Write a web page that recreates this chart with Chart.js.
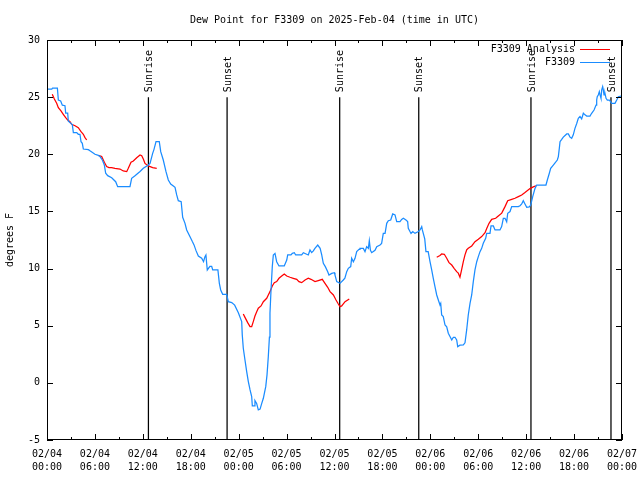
<!DOCTYPE html>
<html>
<head>
<meta charset="utf-8">
<script src="https://cdn.jsdelivr.net/npm/chart.js@4.4.0/dist/chart.umd.min.js"></script>
<style>
  html, body { margin: 0; padding: 0; background: #fff; }
</style>
</head>
<body>
<canvas id="grafico" width="640" height="480"></canvas>
<script>
// horas desde 02/04 00:00 UTC
const obsHoras = [0, 0.6, 0.7, 1.3, 1.42, 1.71, 1.92, 2.25, 2.34, 2.59, 2.67, 3.17, 3.3, 3.72, 3.92, 4.13, 4.26, 4.42, 4.55, 5.18, 5.38, 6.01, 6.43, 6.64, 6.93, 7.18, 7.35, 7.6, 8.1, 8.6, 8.85, 10.39, 10.6, 11.02, 11.65, 12.06, 12.69,
  12.9, 13.23, 13.4, 13.65, 14.06, 14.24, 14.56, 14.9, 15.19, 15.49, 15.82, 16.03, 16.24, 16.44, 16.8, 16.99, 17.28, 17.49, 17.91, 18.2, 18.41, 18.66, 18.95, 19.37, 19.6, 19.78, 19.9, 20.07, 20.4, 20.62, 20.75, 21.4, 21.58, 21.75, 22.0, 22.5, 22.7, 23.13, 23.5,
  23.96, 24.38, 24.45, 24.58, 24.79, 25.0, 25.21, 25.42, 25.63, 25.71, 25.92, 26.04, 26.25, 26.46, 26.68, 26.89, 27.09, 27.39, 27.55, 27.71, 27.85, 27.92, 28.05, 28.21, 28.34, 28.55, 28.76, 29.05, 29.71, 30.02, 30.14, 30.55, 30.72, 30.97, 31.14, 31.89, 32.1, 32.72, 32.93, 33.14, 33.35, 33.55, 33.9, 34.2, 34.4, 34.6, 34.85, 35.15, 35.31, 35.65, 35.98,
  36.06, 36.28, 36.69, 37.1, 37.3, 37.53, 37.73, 38.03, 38.15, 38.36, 38.57, 38.78, 39.07, 39.19, 39.61, 39.82, 40.03, 40.24, 40.36, 40.5, 40.66, 41.07, 41.29, 41.7, 41.9, 42.11, 42.33, 42.54, 42.74, 43.04, 43.29, 43.58, 43.79, 44.2, 44.41, 44.62, 44.95, 45.16, 45.24, 45.45, 45.58, 45.8, 46.08, 46.5, 46.71, 46.92, 47.0, 47.3, 47.45,
  47.73, 47.96, 48.17, 48.37, 48.58, 48.8, 49.0, 49.21, 49.3, 49.42, 49.62, 49.84, 50.05, 50.25, 50.46, 50.68, 50.88, 51.09, 51.3, 51.43, 51.71, 52.13, 52.34, 52.55, 52.75, 52.97, 53.18, 53.38, 53.59, 53.81, 54.01, 54.22, 54.43, 54.63, 54.93, 55.06, 55.47, 55.6, 55.89, 56.1, 56.72, 56.93, 57.14, 57.35, 57.56, 57.69, 57.98, 58.19, 59.02,
  59.23, 59.44, 59.64, 59.85, 60.07, 60.39, 60.57, 60.82, 61.11, 61.32, 62.48, 62.65, 62.9, 63.07, 63.4, 63.74, 63.9, 64.03, 64.15, 64.24, 64.45, 64.65, 65.08, 65.28, 65.49, 65.7, 65.9, 66.11, 66.33, 66.53, 66.74, 66.95, 67.16, 67.37, 67.58, 67.99, 68.2, 68.5, 68.75, 68.83, 68.9, 69.03, 69.16, 69.25, 69.37, 69.46, 69.58, 69.66, 69.75, 69.87, 70.0, 70.16, 70.41, 70.71, 71.12, 71.34, 71.54, 71.88, 72];
const obsValores = [25.7, 25.7, 25.8, 25.8, 24.75, 24.66, 24.3, 24.25, 23.6, 23.6, 22.9, 22.6, 21.9, 21.9, 21.75, 21.75, 21.1, 20.96, 20.46, 20.4, 20.3, 20.0, 19.9, 19.8, 19.5, 19.06, 18.34, 18.13, 17.95, 17.6, 17.17, 17.17, 17.9, 18.13, 18.5, 18.77, 19.06,
  19.2, 20.08, 20.43, 21.1, 21.1, 20.23, 19.5, 18.48, 17.75, 17.4, 17.23, 17.11, 16.44, 15.94, 15.85, 14.49, 13.96, 13.38, 12.79, 12.36, 12.07, 11.57, 11.1, 10.9, 10.6, 11.04, 11.19, 9.88, 10.2, 10.2, 9.88, 9.88, 8.71, 8.13, 7.75, 7.75, 7.1, 7.02, 6.8,
  6.14, 5.36, 4.2, 3.03, 2.0, 1.0, 0.11, -0.6, -1.2, -2.02, -2.02, -1.55, -1.8, -2.37, -2.3, -1.8, -1.35, -0.33, 0.7, 2.29, 4.0, 6.09, 8.1, 10.17, 11.19, 11.33, 10.6, 10.23, 10.23, 10.75, 11.19, 11.19, 11.33, 11.39, 11.19, 11.19, 11.39, 11.19, 11.63, 11.4, 11.55, 11.77, 12.06, 11.77, 11.19, 10.46, 10.17, 9.73, 9.44, 9.58, 9.64,
  9.44, 8.86, 8.71, 9.0, 9.15, 9.73, 10.02, 10.17, 10.9, 10.6, 10.9, 11.48, 11.68, 11.77, 11.77, 11.48, 11.92, 11.77, 12.44, 11.6, 11.39, 11.6, 11.92, 12.06, 12.2, 13.08, 13.08, 13.96, 14.19, 14.25, 14.78, 14.7, 14.11, 14.11, 14.3, 14.4, 14.25, 14.11, 13.53, 13.24, 13.08, 13.24, 13.08, 13.24, 13.38, 13.67, 13.38, 12.6, 11.48,
  11.48, 10.6, 9.88, 9.15, 8.42, 7.69, 7.25, 6.81, 6.95, 5.94, 5.8, 5.06, 4.9, 4.34, 4.05, 3.75, 3.99, 3.99, 3.75, 3.17, 3.3, 3.32, 3.5, 4.63, 5.94, 6.95, 7.69, 8.86, 9.88, 10.6, 11.04, 11.48, 11.77, 12.21, 12.65, 13.08, 13.08, 13.73, 13.73, 13.38, 13.38, 13.67, 14.4, 14.4, 14.1, 14.84, 14.99, 15.42, 15.42,
  15.5, 15.65, 15.94, 15.65, 15.36, 15.4, 15.56, 16.29, 17.02, 17.31, 17.31, 17.75, 18.34, 18.77, 19.06, 19.35, 19.5, 19.8, 20.52, 21.1, 21.3, 21.5, 21.78, 21.78, 21.5, 21.4, 21.7, 22.27, 22.7, 23.15, 23.3, 23.1, 23.59, 23.45, 23.35, 23.35, 23.59, 23.87, 24.31, 24.75, 25.04, 25.19, 25.48, 25.19, 24.9, 25.63, 25.92, 25.63, 25.19, 25.33, 24.9, 24.75, 24.75, 24.46, 24.46, 24.75, 25.04, 25.1, 25.1];

// análise (null = intervalo sem dados)
const anaHoras = [0.66, 0.92, 1.21, 1.42, 1.75, 2.04, 2.34, 2.59, 2.88, 3.09, 3.51, 3.92, 4.26, 4.55, 4.76, 4.97, 5.7,
  6.51, 6.85, 7.18, 7.47, 7.76, 8.1, 8.51, 9.14, 9.55, 9.98, 10.18, 10.52, 10.81, 11.23, 11.65, 11.86, 12.06, 12.27, 12.69, 13.23, 13.74, 19,
  24.58, 24.79, 25.13, 25.42, 25.63, 25.83, 26.04, 26.26, 26.46, 26.8, 27.09, 27.51, 27.71, 27.92, 28.21, 28.46, 28.76, 29.05, 29.39, 29.71, 30.02, 30.43, 30.84, 31.27, 31.55, 31.89, 32.31, 32.72, 33.06, 33.56, 33.97, 34.47, 34.81, 35.15, 35.44, 35.86, 36.19, 36.48, 36.69, 36.9, 37.32, 37.85, 43,
  48.8, 49.21, 49.42, 49.75, 50.05, 50.34, 50.68, 51.0, 51.3, 51.5, 51.71, 51.92, 52.13, 52.34, 52.55, 52.75, 53.18, 53.59, 54.01, 54.43, 54.85, 55.06, 55.35, 55.68, 56.18, 56.51, 56.94, 57.35, 57.69, 58.19, 58.6, 59.02, 59.44, 59.85, 60.48, 60.89, 61.23];
const anaValores = [25.25, 24.84, 24.46, 24.08, 23.79, 23.5, 23.2, 23.0, 22.85, 22.62, 22.5, 22.33, 21.98, 21.75, 21.46, 21.25, null,
  19.88, 19.8, 19.3, 18.92, 18.83, 18.83, 18.77, 18.71, 18.54, 18.48, 18.77, 19.3, 19.41, 19.7, 19.94, 19.88, 19.59, 19.2, 18.98, 18.83, 18.77, null,
  6.03, 5.73, 5.27, 4.92, 4.92, 5.36, 5.85, 6.23, 6.53, 6.73, 7.1, 7.4, 7.69, 7.98, 8.48, 8.77, 8.86, 9.15, 9.35, 9.53, 9.35, 9.24, 9.15, 9.06, 8.86, 8.77, 9.0, 9.15, 9.06, 8.86, 8.95, 9.06, 8.71, 8.36, 7.98, 7.69, 7.25, 6.9, 6.67, 6.73, 7.1, 7.34, null,
  10.99, 11.14, 11.28, 11.25, 10.9, 10.52, 10.31, 10.0, 9.73, 9.6, 9.24, 9.9, 10.6, 11.2, 11.63, 11.78, 11.98, 12.35, 12.56, 12.8, 13.14, 13.5, 13.96, 14.31, 14.4, 14.6, 14.85, 15.42, 15.94, 16.06, 16.15, 16.3, 16.44, 16.65, 17.0, 17.15, 17.25];

// nascer / pôr do sol
const solHoras = [12.7, 22.55, 36.65, 46.55, 60.6, 70.62];
const solRotulos = ["Sunrise", "Sunset", "Sunrise", "Sunset", "Sunrise", "Sunset"];
const solTopo = 25;

const yTicks = [-5, 0, 5, 10, 15, 20, 25, 30];
const diasRotulo = ["02/04", "02/05", "02/06", "02/07"];

const FONTE = "'DejaVu Sans Mono', monospace";
const AZUL = "#1a8cff";
const VERMELHO = "#ff0000";

function pontos(horas, valores) {
  return horas.map((h, i) => ({ x: h, y: valores[i] }));
}

const datasets = [
  { label: "F3309 Analysis", data: pontos(anaHoras, anaValores), borderColor: VERMELHO, order: 2 },
  { label: "F3309", data: pontos(obsHoras, obsValores), borderColor: AZUL, order: 1 }
];
solHoras.forEach(h => {
  datasets.push({ label: "_sol", data: [{ x: h, y: solTopo }, { x: h, y: yTicks[0] }], borderColor: "#000", order: 3 });
});
datasets.forEach(d => {
  d.borderWidth = 1.25;
  d.pointRadius = 0;
  d.tension = 0;
  d.spanGaps = false;
  d.fill = false;
});

// moldura, ticks internos, legenda e rótulos do sol (estilo gnuplot)
const molduraPlugin = {
  id: "moldura",
  afterDatasetsDraw(chart) {
    const { ctx, chartArea: a, scales: { x, y } } = chart;
    ctx.save();
    ctx.strokeStyle = "#000";
    ctx.lineWidth = 1;
    ctx.strokeRect(a.left + 0.5, a.top + 0.5, a.right - a.left - 1, a.bottom - a.top - 1);
    ctx.beginPath();
    for (let h = 0; h <= 72; h += 3) {
      const px = Math.round(x.getPixelForValue(h)) + 0.5;
      const len = h % 6 === 0 ? 6 : 3;
      ctx.moveTo(px, a.bottom); ctx.lineTo(px, a.bottom - len);
      ctx.moveTo(px, a.top); ctx.lineTo(px, a.top + len);
    }
    yTicks.forEach(v => {
      const py = Math.round(y.getPixelForValue(v)) + 0.5;
      ctx.moveTo(a.left, py); ctx.lineTo(a.left + 6, py);
      ctx.moveTo(a.right, py); ctx.lineTo(a.right - 6, py);
    });
    ctx.stroke();

    ctx.font = "10px " + FONTE;
    ctx.fillStyle = "#000";
    ctx.textBaseline = "middle";
    solHoras.forEach((h, i) => {
      ctx.save();
      ctx.translate(x.getPixelForValue(h) + 1, y.getPixelForValue(solTopo) - 5);
      ctx.rotate(-Math.PI / 2);
      ctx.textAlign = "left";
      ctx.fillText(solRotulos[i], 0, 0);
      ctx.restore();
    });

    // legenda
    ctx.textAlign = "right";
    [datasets[0], datasets[1]].forEach((d, i) => {
      const ly = a.top + 9 + i * 13;
      ctx.fillStyle = "#000";
      ctx.fillText(d.label, a.right - 47, ly);
      ctx.strokeStyle = d.borderColor;
      ctx.beginPath();
      ctx.moveTo(a.right - 42, Math.round(ly) + 0.5);
      ctx.lineTo(a.right - 12, Math.round(ly) + 0.5);
      ctx.stroke();
    });
    ctx.restore();
  }
};

new Chart(document.getElementById("grafico"), {
  type: "line",
  data: { datasets },
  plugins: [molduraPlugin],
  options: {
    responsive: false,
    animation: false,
    devicePixelRatio: 1,
    layout: { padding: { top: 0, right: 18, bottom: 0, left: 0 } },
    plugins: {
      legend: { display: false },
      tooltip: { enabled: false },
      title: {
        display: true,
        fullSize: false,
        text: "Dew Point for F3309 on 2025-Feb-04 (time in UTC)",
        color: "#000",
        font: { family: FONTE, size: 10, weight: "normal", lineHeight: 1.2 },
        padding: { top: 14, bottom: 14 }
      }
    },
    scales: {
      x: {
        type: "linear",
        min: 0,
        max: 72,
        grid: { display: false, drawTicks: false },
        border: { display: false },
        ticks: {
          stepSize: 6,
          autoSkip: false,
          maxRotation: 0,
          padding: 8,
          color: "#000",
          font: { family: FONTE, size: 10, lineHeight: 1.3 },
          callback: v => {
            const dia = diasRotulo[Math.floor(v / 24)];
            const hh = String(v % 24).padStart(2, "0");
            return [dia, hh + ":00"];
          }
        },
        afterFit: s => { s.height = 40; s.paddingLeft = 0; s.paddingRight = 0; }
      },
      y: {
        min: yTicks[0],
        max: yTicks[yTicks.length - 1],
        grid: { display: false, drawTicks: false },
        border: { display: false },
        ticks: {
          stepSize: 5,
          padding: 7,
          color: "#000",
          font: { family: FONTE, size: 10 }
        },
        title: {
          display: true,
          text: "degrees F",
          color: "#000",
          font: { family: FONTE, size: 10 },
          padding: { top: 4, bottom: 0 }
        },
        afterFit: s => { s.width = 47; s.paddingTop = 0; s.paddingBottom = 0; }
      }
    }
  }
});
</script>
</body>
</html>
